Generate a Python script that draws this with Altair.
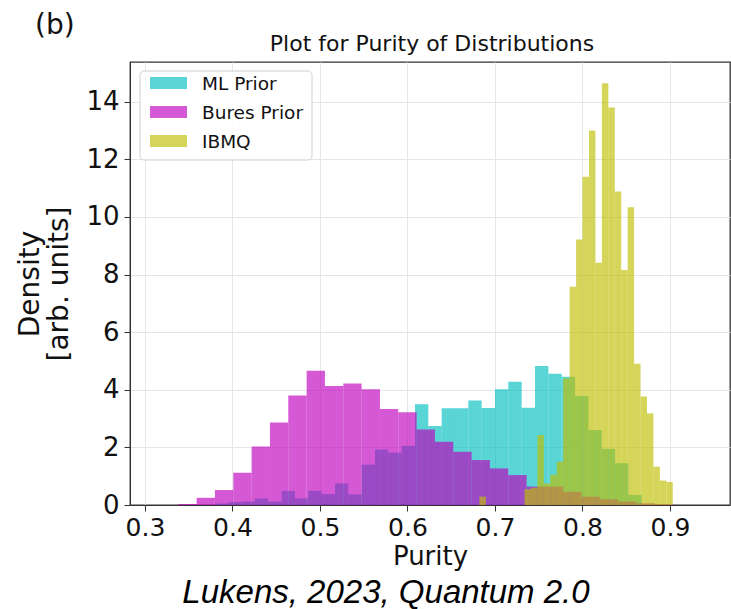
import altair as alt
import pandas as pd

# ---------------- data ----------------
series_names = ["ML Prior", "Bures Prior", "IBMQ"]
series_colors = ["#00bfbf", "#bf00bf", "#bfbf00"]

# ML Prior histogram (density per bin)
ml_bin_start = 0.38
ml_bin_width = 0.01524
ml_density = [0.05, 0.10, 0.12, 0.23, 0.12, 0.49, 0.23, 0.49, 0.38, 0.75,
              0.37, 1.40, 1.93, 1.82, 2.05, 3.50, 2.74, 3.36, 3.36, 3.63,
              3.37, 4.02, 4.28, 3.38, 4.83, 4.56, 4.45, 3.78, 2.60, 1.95,
              1.45, 0.35]

# Bures Prior histogram
bures_bin_start = 0.3381
bures_bin_width = 0.02095
bures_density = [0.035, 0.25, 0.52, 1.12, 2.03, 2.86, 3.80, 4.66, 4.13, 4.22,
                 4.02, 3.33, 3.22, 2.62, 2.20, 1.85, 1.56, 1.27, 1.04, 0.64,
                 0.64, 0.46, 0.29, 0.20, 0.12, 0.06, 0.03]

# IBMQ histogram
ibmq_bin_start = 0.6822
ibmq_bin_width = 0.007367
ibmq_density = [0.29, 0, 0, 0, 0, 0, 0, 0.55, 0.60, 2.43,
                0.75, 1.05, 1.50, 4.40, 7.58, 9.22, 11.40, 13.00, 8.41, 14.64,
                13.80, 10.88, 8.16, 10.34, 4.90, 3.77, 3.18, 1.33, 0.85, 0.80]

x_ticks = [0.3, 0.4, 0.5, 0.6, 0.7, 0.8, 0.9]
y_ticks = [0, 2, 4, 6, 8, 10, 12, 14]
x_domain = [0.2829, 0.9686]
y_domain = [0, 15.38]

title_text = "Plot for Purity of Distributions"
x_title = "Purity"
y_title = ["Density", "[arb. units]"]
panel_label = "(b)"
caption_text = "Lukens, 2023, Quantum 2.0"

# ---------------- table ----------------
rows = []
for name, start, width, dens in [
    ("ML Prior", ml_bin_start, ml_bin_width, ml_density),
    ("Bures Prior", bures_bin_start, bures_bin_width, bures_density),
    ("IBMQ", ibmq_bin_start, ibmq_bin_width, ibmq_density),
]:
    for i, d in enumerate(dens):
        if d > 0:
            rows.append({"series": name,
                         "x0": start + i * width,
                         "x1": start + (i + 1) * width,
                         "density": d})
df = pd.DataFrame(rows)

FONT = "DejaVu Sans"
ALPHA = 0.65

bars = alt.Chart(df).mark_rect(opacity=ALPHA, strokeWidth=0).encode(
    x=alt.X("x0:Q",
            scale=alt.Scale(domain=x_domain, nice=False, zero=False),
            axis=alt.Axis(values=x_ticks, format=".1f", title=x_title,
                          labelFontSize=25, titleFontSize=26,
                          titleFontWeight="normal", titlePadding=3,
                          tickSize=6, labelPadding=4, labelFont=FONT,
                          titleFont=FONT, labelColor="#111", titleColor="#111",
                          tickColor="#333", domainColor="#333",
                          gridColor="#e6e6e6", grid=True)),
    x2="x1:Q",
    y=alt.Y("density:Q",
            scale=alt.Scale(domain=y_domain, nice=False),
            axis=alt.Axis(values=y_ticks, format="d", title=y_title,
                          labelFontSize=26, titleFontSize=28,
                          titleFontWeight="normal", titlePadding=12,
                          titleLineHeight=29,
                          tickSize=6, labelPadding=5, labelFont=FONT,
                          titleFont=FONT, labelColor="#111", titleColor="#111",
                          tickColor="#333", domainColor="#333",
                          gridColor="#e6e6e6", grid=True)),
    y2=alt.datum(0),
    color=alt.Color("series:N",
                    scale=alt.Scale(domain=series_names, range=series_colors),
                    legend=None),
)

layers = [bars]

# ---- legend (drawn as marks, top-left inside the plot) ----
one = pd.DataFrame({"a": [0]})
layers.append(alt.Chart(one).mark_rect(
    fill="white", fillOpacity=0.85, stroke="#cfcfcf", strokeWidth=1,
    cornerRadius=4).encode(x=alt.value(10), x2=alt.value(182),
                           y=alt.value(9), y2=alt.value(98)))
for i, (name, col) in enumerate(zip(series_names, series_colors)):
    cy = 21 + 29 * i
    layers.append(alt.Chart(one).mark_rect(
        fill=col, opacity=ALPHA).encode(
        x=alt.value(20), x2=alt.value(57),
        y=alt.value(cy - 6), y2=alt.value(cy + 6)))
    layers.append(alt.Chart(pd.DataFrame({"t": [name]})).mark_text(
        font=FONT, fontSize=18.5, align="left", baseline="middle",
        color="#111").encode(x=alt.value(72), y=alt.value(cy + 1),
                             text="t:N"))

# ---- title, panel label, caption ----
layers.append(alt.Chart(pd.DataFrame({"t": [title_text]})).mark_text(
    font=FONT, fontSize=22, align="center", baseline="alphabetic",
    color="#111").encode(x=alt.value(302), y=alt.value(-11), text="t:N"))

layers.append(alt.Chart(pd.DataFrame({"t": [panel_label]})).mark_text(
    font=FONT, fontSize=28, align="left", baseline="alphabetic",
    color="#111").encode(x=alt.value(-95), y=alt.value(-28), text="t:N"))

layers.append(alt.Chart(pd.DataFrame({"t": [caption_text]})).mark_text(
    font="Liberation Sans", fontSize=33, fontStyle="italic", align="center",
    baseline="alphabetic", color="#000").encode(
    x=alt.value(256), y=alt.value(541), text="t:N"))

chart = alt.layer(*layers).properties(
    width=600, height=443,
    autosize=alt.AutoSizeParams(type="none"),
    padding={"left": 130, "top": 62, "right": 1, "bottom": 104},
).configure_view(stroke="#333", strokeWidth=1.3)

chart.save("out.html", embed_options={"renderer": "svg", "actions": False})
